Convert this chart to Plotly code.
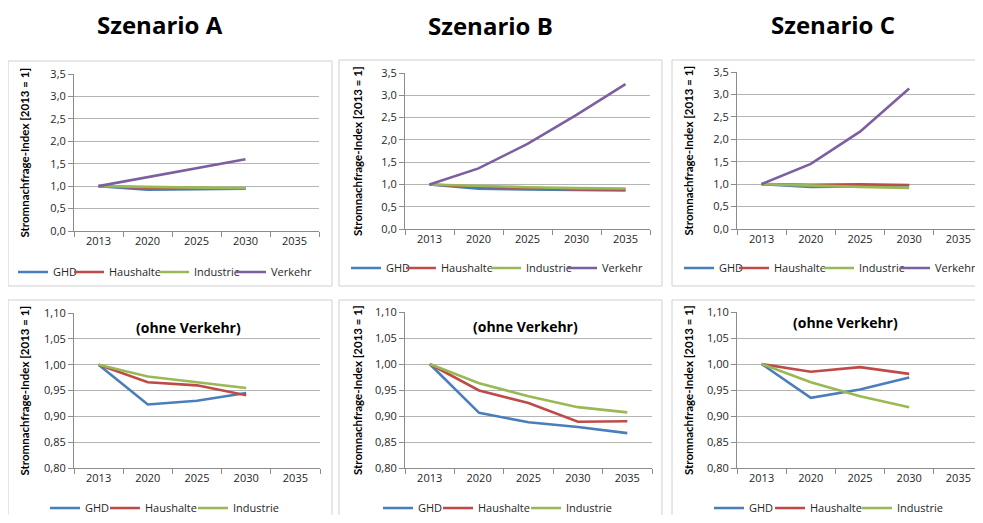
import plotly.graph_objects as go

# page body has an 8px default margin: lay out in page pixels and shift
OFF = 8
W, H = 983 - OFF, 523 - 2 * OFF

years = ["2013", "2020", "2025", "2030", "2035"]
series_names = ["GHD", "Haushalte", "Industrie", "Verkehr"]
colors = {"GHD": "#4A7EBB", "Haushalte": "#BE4B48", "Industrie": "#98B954", "Verkehr": "#7D5FA0"}

# Szenario A (bis 2030)
a_years = ["2013", "2020", "2025", "2030"]
a_ghd = [1.000, 0.923, 0.930, 0.945]
a_haushalte = [1.000, 0.966, 0.960, 0.941]
a_industrie = [1.000, 0.977, 0.966, 0.955]
a_verkehr = [1.00, 1.20, 1.39, 1.60]

# Szenario B (bis 2035)
b_years = ["2013", "2020", "2025", "2030", "2035"]
b_ghd = [1.000, 0.906, 0.888, 0.879, 0.867]
b_haushalte = [1.000, 0.949, 0.925, 0.889, 0.890]
b_industrie = [1.000, 0.963, 0.938, 0.917, 0.907]
b_verkehr = [1.00, 1.36, 1.91, 2.56, 3.25]

# Szenario C (bis 2030)
c_years = ["2013", "2020", "2025", "2030"]
c_ghd = [1.000, 0.935, 0.951, 0.974]
c_haushalte = [1.000, 0.985, 0.994, 0.981]
c_industrie = [1.000, 0.965, 0.938, 0.917]
c_verkehr = [1.00, 1.45, 2.17, 3.13]

top_ticks = [0, 0.5, 1.0, 1.5, 2.0, 2.5, 3.0, 3.5]
bottom_ticks = [0.80, 0.85, 0.90, 0.95, 1.00, 1.05, 1.10]

titles = ["Szenario A", "Szenario B", "Szenario C"]
subtitle = "(ohne Verkehr)"
ytitle = "Stromnachfrage-Index [2013 = 1]"

scen = [
    (a_years, {"GHD": a_ghd, "Haushalte": a_haushalte, "Industrie": a_industrie, "Verkehr": a_verkehr}),
    (b_years, {"GHD": b_ghd, "Haushalte": b_haushalte, "Industrie": b_industrie, "Verkehr": b_verkehr}),
    (c_years, {"GHD": c_ghd, "Haushalte": c_haushalte, "Industrie": c_industrie, "Verkehr": c_verkehr}),
]

# layout geometry in page pixels
plot_x = [(74, 319), (405, 650), (737, 983)]
plot_x_bot = [(74, 320), (405, 652), (737, 983)]
plot_y_top = [(74, 231), (73, 229), (72, 229)]
plot_y_bot = [(313, 468), (312, 468), (312, 468)]
boxes_top = [(8, 61, 332, 286), (339, 60, 662, 286), (672, 60, 995, 286)]
boxes_bot = [(8, 300, 332, 540), (339, 300, 662, 540), (672, 300, 995, 540)]
title_pos = [(160, 24), (490, 26), (833, 25)]
sub_pos = [(188, 327), (525, 326), (845, 322)]
ytitle_x = [24, 357, 688]
# legend text start x and row y per panel
leg_text_top = [[53, 109, 194, 271], [386, 441, 526, 602], [719, 774, 859, 935]]
leg_y_top = [272, 268, 268]
leg_text_bot = [[85, 145, 233], [418, 478, 566], [749, 810, 897]]
leg_y_bot = [508, 508, 508]
LEG_TEXT_OFFSET = 40


def fx(px):
    return (px - OFF) / W


def fy(py):
    return 1 - (py - OFF) / H


FONT = "Open Sans"
TXT = "#262626"
GRID = "#B4B4B4"
AXIS = "#8C8C8C"

fig = go.Figure()
layout = dict(
    width=W, height=H, margin=dict(l=0, r=0, t=0, b=0, autoexpand=False),
    paper_bgcolor="white", plot_bgcolor="white",
    separators=",.", font=dict(family=FONT, size=11, color=TXT),
    showlegend=True,
)
shapes = []
annotations = []

ax = 0
legn = 0
for i, (yrs, data) in enumerate(scen):
    for row in range(2):
        ax += 1
        xa = "x" if ax == 1 else f"x{ax}"
        ya = "y" if ax == 1 else f"y{ax}"
        names = series_names if row == 0 else series_names[:3]
        if row == 0:
            x0, x1 = plot_x[i]
            y0, y1 = plot_y_top[i]
            rng = [0, 3.5]
            tv = top_ticks
            tf = ".1f"
            ltx, lty = leg_text_top[i], leg_y_top[i]
            bx = boxes_top[i]
        else:
            x0, x1 = plot_x_bot[i]
            y0, y1 = plot_y_bot[i]
            rng = [0.8, 1.1]
            tv = bottom_ticks
            tf = ".2f"
            ltx, lty = leg_text_bot[i], leg_y_bot[i]
            bx = boxes_bot[i]
        for k, n in enumerate(names):
            legn += 1
            leg = "legend" if legn == 1 else f"legend{legn}"
            fig.add_trace(go.Scatter(
                x=yrs, y=data[n], mode="lines", name=n,
                line=dict(color=colors[n], width=2.6),
                xaxis=xa, yaxis=ya, legend=leg, hoverinfo="skip",
            ))
            layout[leg] = dict(
                orientation="h", x=fx(ltx[k] - LEG_TEXT_OFFSET), y=fy(lty),
                xanchor="left", yanchor="middle",
                bgcolor="rgba(0,0,0,0)", font=dict(size=11, color=TXT),
                itemwidth=30, borderwidth=0,
            )
        kx = "xaxis" if ax == 1 else f"xaxis{ax}"
        ky = "yaxis" if ax == 1 else f"yaxis{ax}"
        layout[kx] = dict(
            domain=[fx(x0), min(1.0, fx(x1))], anchor=ya, type="category",
            categoryorder="array", categoryarray=years, range=[-0.5, 4.5],
            tickmode="array", tickvals=years, ticktext=years,
            tickson="boundaries", ticks="outside", ticklen=5, tickcolor=AXIS,
            showline=True, linecolor=AXIS, linewidth=1, showgrid=False,
            zeroline=False, fixedrange=True, automargin=False,
            tickfont=dict(size=11, color=TXT),
        )
        layout[ky] = dict(
            domain=[fy(y1), fy(y0)], anchor=xa, range=rng,
            tickmode="array", tickvals=tv, tickformat=tf,
            ticks="outside", ticklen=5, tickcolor=AXIS,
            showline=True, linecolor=AXIS, linewidth=1,
            showgrid=True, gridcolor=GRID, gridwidth=1, zeroline=False,
            fixedrange=True, automargin=False,
            tickfont=dict(size=11, color=TXT),
        )
        shapes.append(dict(
            type="rect", xref="paper", yref="paper",
            x0=fx(bx[0]), x1=fx(bx[2]), y0=fy(bx[3]), y1=fy(bx[1]),
            line=dict(color="#D0D0D0", width=1), fillcolor="rgba(0,0,0,0)", layer="below",
        ))
        annotations.append(dict(
            text=ytitle, textangle=-90, xref="paper", yref="paper",
            x=fx(ytitle_x[i]), y=fy((y0 + y1) / 2),
            xanchor="center", yanchor="middle", showarrow=False,
            font=dict(family="Lato", size=11.5, color="#000000", weight="bold"),
        ))
        if row == 1:
            sx, sy = sub_pos[i]
            annotations.append(dict(
                text="<b>" + subtitle + "</b>", xref="paper", yref="paper",
                x=fx(sx), y=fy(sy), xanchor="center", yanchor="middle",
                showarrow=False, font=dict(family=FONT, size=14, color="#000000"),
            ))
    tx, ty = title_pos[i]
    annotations.append(dict(
        text="<b>" + titles[i] + "</b>", xref="paper", yref="paper",
        x=fx(tx), y=fy(ty), xanchor="center", yanchor="middle", showarrow=False,
        font=dict(family=FONT, size=24, color="#000000"),
    ))

layout["shapes"] = shapes
layout["annotations"] = annotations
fig.update_layout(**layout)
fig.write_html("out.html")
